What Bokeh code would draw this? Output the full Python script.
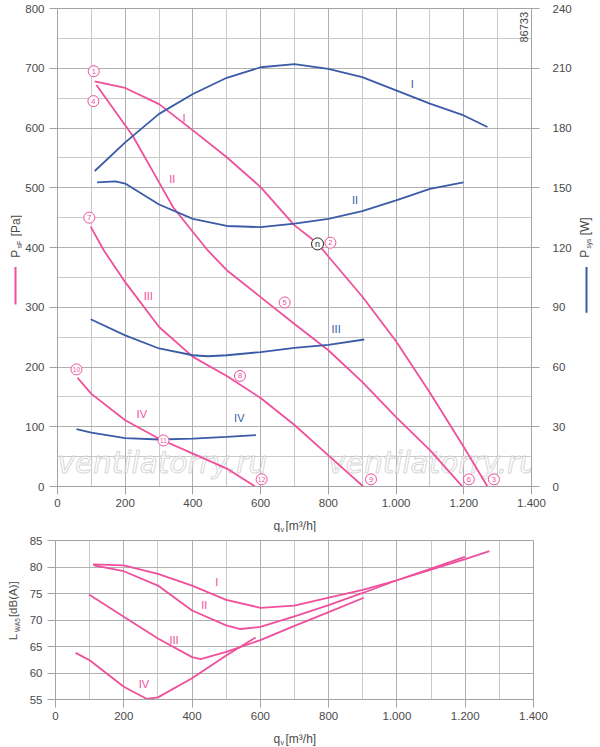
from math import pi

from bokeh.core.properties import value
from bokeh.embed import file_html
from bokeh.layouts import column, row
from bokeh.models import (CustomJSTickFormatter, FixedTicker, Label,
                          LinearAxis, Range1d)
from bokeh.plotting import figure
from bokeh.resources import INLINE

PINK = "#ef4f9b"
BLUE = "#3a5ba8"
FRAME = "#a3a3a3"
GRID_MAJOR = "#b0b0b0"
GRID_MINOR = "#c9c9c9"
TEXT = "#4a4a4a"
FONT = "Liberation Sans"

# --- axes -------------------------------------------------------------
q_ticks = [0, 200, 400, 600, 800, 1000, 1200, 1400]
q_minor = [100, 300, 500, 700, 900, 1100, 1300]
p_ticks = [0, 100, 200, 300, 400, 500, 600, 700, 800]
p_minor = [50, 150, 250, 350, 450, 550, 650, 750]
w_ticks = [0, 30, 60, 90, 120, 150, 180, 210, 240]
l_ticks = [55, 60, 65, 70, 75, 80, 85]

# --- static pressure p_sF [Pa] ----------------------------------------
psf_1_q = [110, 200, 300, 400, 500, 600, 700, 768, 800, 900, 1000, 1100, 1200, 1270]
psf_1 = [678, 667, 640, 596, 551, 501, 437, 407, 385, 318, 243, 157, 66, 0]
psf_2_q = [115, 222, 300, 342, 400, 444, 500, 600, 700, 800, 900, 1000, 1100, 1196]
psf_2 = [672, 587, 509, 467, 426, 395, 362, 317, 272, 228, 175, 116, 61, 0]
psf_3_q = [98, 137, 200, 300, 400, 500, 600, 700, 800, 903]
psf_3 = [435, 395, 342, 267, 217, 185, 148, 103, 52, 0]
psf_4_q = [59, 100, 200, 300, 400, 500, 584]
psf_4 = [182, 155, 111, 80, 55, 30, 0]

# --- power P_sys [W] --------------------------------------------------
psys_1_q = [110, 200, 300, 400, 500, 600, 700, 800, 900, 1000, 1100, 1200, 1270]
psys_1 = [158.4, 172.8, 187.1, 197.1, 205.2, 210.5, 212.1, 209.7, 205.5, 198.9, 192.2, 186.3, 180.5]
psys_2_q = [117, 171, 200, 300, 400, 500, 600, 700, 800, 900, 1000, 1100, 1199]
psys_2 = [152.7, 153.2, 152.1, 141.6, 134.4, 130.8, 130.2, 132.0, 134.4, 138.3, 143.7, 149.4, 152.7]
psys_3_q = [98, 200, 300, 400, 444, 500, 600, 700, 800, 906]
psys_3 = [84.0, 75.9, 69.3, 65.9, 65.4, 65.9, 67.5, 69.6, 71.1, 73.8]
psys_4_q = [56, 100, 200, 300, 400, 500, 586]
psys_4 = [28.8, 27.0, 24.3, 23.6, 24.0, 24.9, 25.8]

# --- sound power L_WA5 [dB(A)] ----------------------------------------
lwa_1_q = [110, 200, 300, 400, 500, 600, 700, 800, 900, 1000, 1100, 1200, 1271]
lwa_1 = [80.5, 80.3, 78.7, 76.5, 73.8, 72.3, 72.7, 74.2, 75.7, 77.5, 79.5, 81.5, 83.0]
lwa_2_q = [112, 200, 300, 400, 500, 542, 600, 700, 800, 900, 1000, 1100, 1199]
lwa_2 = [80.3, 79.2, 76.5, 71.8, 69.0, 68.3, 68.7, 70.7, 72.8, 75.1, 77.5, 79.7, 81.9]
lwa_3_q = [98, 200, 300, 400, 425, 500, 600, 700, 800, 903]
lwa_3 = [74.8, 70.6, 66.5, 63.0, 62.6, 64.0, 66.2, 68.9, 71.5, 74.2]
lwa_4_q = [59, 100, 200, 268, 300, 400, 500, 586]
lwa_4 = [63.8, 62.4, 57.4, 55.1, 55.4, 59.0, 63.3, 66.7]

# operating point markers (1..12) and the "n" point
mark_text = ["1", "2", "3", "4", "5", "6", "7", "8", "9", "10", "11", "12"]
mark_q = [107, 806, 1289, 106, 671, 1215, 94, 539, 926, 56, 313, 603]
mark_p = [695, 408, 12, 645, 308, 12, 450, 185, 12, 196, 77, 12]
n_q, n_p = [768], [406]

roman = ["I", "II", "III", "IV"]
psf_lab_q, psf_lab_p = [374, 339, 268, 249], [617, 515, 319, 122]
psys_lab_q, psys_lab_p = [1048, 879, 823, 537], [674, 479, 264, 114]
lwa_lab_q, lwa_lab_l = [472, 436, 347, 259], [77.1, 72.8, 66.3, 58.0]

THOUSANDS = CustomJSTickFormatter(code="""
    if (tick >= 1000) {
        const r = String(Math.round(tick % 1000)).padStart(3, '0');
        return Math.floor(tick / 1000) + '.' + r;
    }
    return String(tick);
""")


def style_axis(ax, standoff):
    ax.axis_line_color = FRAME
    ax.major_tick_line_color = FRAME
    ax.major_tick_out = 8
    ax.major_tick_in = 0
    ax.minor_tick_line_color = None
    ax.major_label_standoff = standoff
    ax.major_label_text_font = FONT
    ax.major_label_text_font_size = "11.5px"
    ax.major_label_text_color = TEXT


def base_figure(width, height, y_range, right, y_ticks, y_minor):
    p = figure(width=width, height=height, x_range=Range1d(0, 1400), y_range=y_range,
               output_backend="svg", toolbar_location=None,
               min_border_left=33, min_border_right=right,
               min_border_top=8, min_border_bottom=26)
    p.outline_line_color = FRAME
    xt = FixedTicker(ticks=q_ticks, minor_ticks=q_minor)
    yt = FixedTicker(ticks=y_ticks, minor_ticks=y_minor)
    p.xaxis.ticker = xt
    p.xaxis.formatter = THOUSANDS
    p.yaxis.ticker = FixedTicker(ticks=y_ticks)
    p.xgrid.ticker = xt
    p.ygrid.ticker = yt
    for g in (p.xgrid, p.ygrid):
        g.grid_line_color = GRID_MAJOR
        g.minor_grid_line_color = GRID_MINOR
    style_axis(p.xaxis[0], 4)
    style_axis(p.yaxis[0], 5)
    return p


def strip(width, height):
    # blank pixel-space panel that carries the axis titles
    s = figure(width=width, height=height, x_range=Range1d(0, width),
               y_range=Range1d(height, 0), x_axis_type=None, y_axis_type=None,
               output_backend="svg", toolbar_location=None, min_border=0)
    s.outline_line_color = None
    s.grid.visible = False
    return s


def words(s, xs, ys, texts, sizes, angle=0.0):
    for x, y, t, size in zip(xs, ys, texts, sizes):
        s.text([x], [y], text=[t], angle=angle, text_font=value(FONT),
               text_font_size=f"{size}px", text_color=TEXT,
               text_align="left", text_baseline="middle")


# ======================= upper chart ==================================
top = base_figure(552, 512, Range1d(0, 800), 41, p_ticks, p_minor)
top.extra_y_ranges = {"w": Range1d(0, 240)}
right = LinearAxis(y_range_name="w", ticker=FixedTicker(ticks=w_ticks))
style_axis(right, 13)
top.add_layout(right, "right")

# watermark
for wx in (0, 800):
    top.add_layout(Label(x=wx, y=38.5, text="ventilatorry.ru", text_font="DejaVu Sans",
                         text_font_style="italic", text_font_size="29.5px",
                         text_color="white", text_alpha=0.6,
                         text_outline_color="#bababa", text_baseline="alphabetic",
                         level="underlay"))

for q, v in ((psf_1_q, psf_1), (psf_2_q, psf_2), (psf_3_q, psf_3), (psf_4_q, psf_4)):
    top.line(q, v, line_color=PINK, line_width=1.8)
for q, v in ((psys_1_q, psys_1), (psys_2_q, psys_2), (psys_3_q, psys_3), (psys_4_q, psys_4)):
    top.line(q, v, line_color=BLUE, line_width=1.8, y_range_name="w")

top.text(psf_lab_q, psf_lab_p, text=roman, text_color=PINK, text_font=value(FONT),
         text_font_size="11px", text_align="center", text_baseline="middle")
top.text(psys_lab_q, psys_lab_p, text=roman, text_color=BLUE, text_font=value(FONT),
         text_font_size="11px", text_align="center", text_baseline="middle")

top.scatter(mark_q, mark_p, marker="circle", size=11, line_color=PINK,
            line_width=1, fill_color="white")
one = [i for i, t in enumerate(mark_text) if len(t) == 1]
two = [i for i, t in enumerate(mark_text) if len(t) == 2]
top.text([mark_q[i] for i in one], [mark_p[i] for i in one], text=[mark_text[i] for i in one],
         text_color=PINK, text_font=value(FONT), text_font_size="7.5px",
         text_align="center", text_baseline="middle")
top.text([mark_q[i] for i in two], [mark_p[i] for i in two], text=[mark_text[i] for i in two],
         text_color=PINK, text_font=value(FONT), text_font_size="6.5px",
         text_align="center", text_baseline="middle")
top.scatter(n_q, n_p, marker="circle", size=12, line_color="#222222",
            line_width=1, fill_color="white")
top.text(n_q, n_p, text=["n"], text_color="#222222", text_font=value(FONT),
         text_font_size="9px", text_align="center", text_baseline="middle")

top.add_layout(Label(x=1379, y=743, text="86733", angle=pi / 2, text_font=FONT,
                     text_font_size="11px", text_color=TEXT, text_baseline="middle"))

# side strips with the axis titles
left_top = strip(22, 512)
words(left_top, [15, 18.5, 15], [267, 257, 244], ["P", "sF", "[Pa]"], [12, 7, 12], pi / 2)
left_top.segment([15], [277], [15], [317], line_color=PINK, line_width=2)

right_top = strip(24, 512)
words(right_top, [10, 14, 10], [267, 257, 243], ["P", "sys", "[W]"], [12, 6.5, 12], pi / 2)
right_top.segment([12], [277], [12], [326], line_color=BLUE, line_width=2)

xlab_top = strip(598, 20)
words(xlab_top, [273, 280, 285], [13, 17, 13], ["q", "v", "[m³/h]"], [12, 7, 12])

# ======================= lower chart ==================================
bot = base_figure(576, 193, Range1d(55, 85), 65, l_ticks, [])

for q, v in ((lwa_1_q, lwa_1), (lwa_2_q, lwa_2), (lwa_3_q, lwa_3), (lwa_4_q, lwa_4)):
    bot.line(q, v, line_color=PINK, line_width=1.8)
bot.text(lwa_lab_q, lwa_lab_l, text=roman, text_color=PINK, text_font=value(FONT),
         text_font_size="11px", text_align="center", text_baseline="middle")

left_bot = strip(22, 193)
words(left_bot, [12.5, 16.5, 12.5], [121, 111, 93], ["L", "WA5", "[dB(A)]"], [11.5, 6.5, 11.5], pi / 2)

xlab_bot = strip(598, 22)
words(xlab_bot, [273, 280, 285], [13, 17, 13], ["q", "v", "[m³/h]"], [12, 7, 12])

layout = column(row(left_top, top, right_top), xlab_top, row(left_bot, bot), xlab_bot)
open("out.html", "w").write(file_html(layout, INLINE))
